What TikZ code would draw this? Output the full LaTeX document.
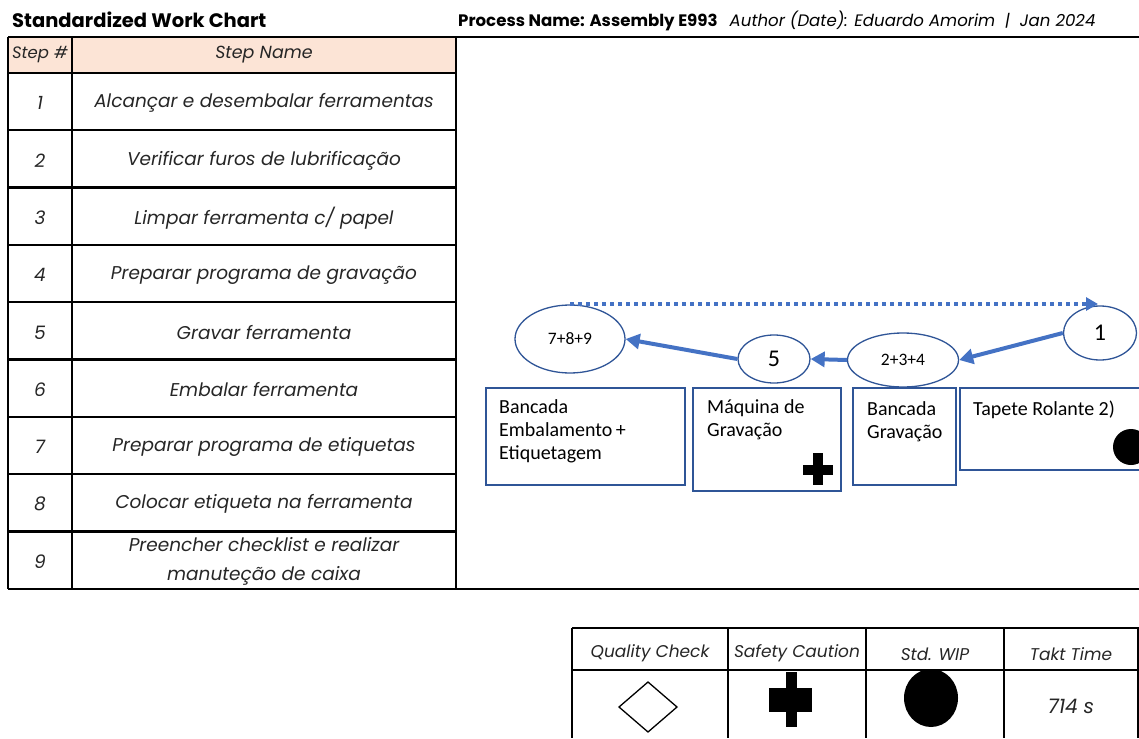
\documentclass[tikz,border=0pt]{standalone}
\usepackage{fontspec}
\setmainfont{Poppins}
\newfontfamily\labelfont{Carlito}
\usetikzlibrary{shapes.geometric,arrows.meta}
\definecolor{peach}{HTML}{FCE4D6}
\definecolor{flowblue}{HTML}{4472C4}
\definecolor{boxblue}{HTML}{2F5597}
\definecolor{ink}{HTML}{262626}
\tikzset{
  grid/.style={draw=black,line width=2.4pt},
  cell/.style={font=\fontsize{18.5}{29}\selectfont\itshape,text=ink,align=center,inner sep=0pt},
  legendcell/.style={font=\fontsize{17}{20}\selectfont\itshape,text=ink,align=center,inner sep=0pt},
  station/.style={draw=boxblue,line width=1.3pt},
  stationtext/.style={font=\labelfont\fontsize{20}{23}\selectfont,anchor=north west,align=left,inner sep=0pt},
  stop/.style={ellipse,draw=boxblue,line width=1.3pt,inner sep=0pt,font=\labelfont},
  flow/.style={draw=flowblue,line width=4pt,-{Triangle[length=14pt,width=15pt]}},
  walkback/.style={draw=flowblue,line width=4pt,dash pattern=on 4pt off 4pt,-{Triangle[length=12pt,width=13pt]}},
}
\begin{document}
\begin{tikzpicture}[x=1pt,y=-1pt]
\useasboundingbox (0,0) rectangle (1139,738);
\clip (0,0) rectangle (1139,738);

% heading line
\node[anchor=west,inner sep=0pt,font=\fontsize{19.5}{22}\selectfont\bfseries] (title) at (12,20) {Standardized Work Chart};
\node[anchor=west,inner sep=0pt,font=\fontsize{16.6}{20}\selectfont] (proc) at (458,21)
  {\textbf{Process Name: Assembly E993}\hspace{12pt}\textit{Author (Date): Eduardo Amorim\ \ |\ \ Jan 2024}};

% step table
\fill[peach] (8,37) rectangle (456,73);
\draw[grid] (8,37) -- (1139,37);
\draw[grid] (8,589) -- (1139,589);
\draw[grid] (8,37) -- (8,589);
\draw[grid] (72,37) -- (72,589);
\draw[grid] (456,37) -- (456,589);
\foreach \yy in {73,130.3,187.6,244.9,302.2,359.5,416.8,474.1,531.4}
  \draw[grid] (8,\yy) -- (456,\yy);

\node[cell,font=\fontsize{16.5}{20}\selectfont\itshape] (hnum) at (40,55) {Step \#};
\node[cell,font=\fontsize{17.5}{20}\selectfont\itshape] (hname) at (264,55) {Step Name};
\foreach \n/\txt [count=\i from 0] in {
  1/{Alcançar e desembalar ferramentas},
  2/{Verificar furos de lubrificação},
  3/{Limpar ferramenta c/ papel},
  4/{Preparar programa de gravação},
  5/{Gravar ferramenta},
  6/{Embalar ferramenta},
  7/{Preparar programa de etiquetas},
  8/{Colocar etiqueta na ferramenta},
  9/{Preencher checklist e realizar\\manuteção de caixa}}{
  \node[cell] (num\n) at (40,{103.2+57.3*\i}) {\n};
  \node[cell] (step\n) at (264,{103.2+57.3*\i}) {\txt};
}

% work stations
\draw[station] (486,388) rectangle (685,485);
\node[stationtext] (packtxt) at (499,399) {Bancada\\Embalamento\,+\\Etiquetagem};
\draw[station] (693,388) rectangle (841,491);
\node[stationtext] (engravetxt) at (707,399) {Máquina de\\Gravação};
\draw[station] (853,388) rectangle (956,485);
\node[stationtext] (benchtxt) at (867,401) {Bancada\\Gravação};
\draw[station] (960,388) rectangle (1160,470);
\node[stationtext] (belttxt) at (973,401) {Tapete Rolante 2)};

% symbols inside the stations
\fill[black] (813,453) rectangle (823,485);
\fill[black] (803,465) rectangle (833,475);
\fill[black] (1131,447) ellipse [x radius=18, y radius=18];

% operator stops
\node[stop,minimum width=110pt,minimum height=68pt,font=\labelfont\fontsize{17.5}{19}\selectfont] (s789) at (570,339) {7+8+9};
\node[stop,minimum width=72pt,minimum height=48pt,font=\labelfont\fontsize{24}{26}\selectfont] (s5) at (774,359) {5};
\node[stop,minimum width=111pt,minimum height=54pt,font=\labelfont\fontsize{17.5}{19}\selectfont] (s234) at (903,360) {2+3+4};
\node[stop,minimum width=73pt,minimum height=54pt,font=\labelfont\fontsize{24}{26}\selectfont] (s1) at (1100,333) {1};

% walking path
\draw[flow] (s1.west) -- (s234.east);
\draw[flow] (s234.west) -- (s5.east);
\draw[flow] (s5.west) -- (s789.east);
\coordinate (backstart) at (570,304);
\coordinate (backend) at (1098,304);
\draw[walkback] (backstart) -- (backend);

% legend table
\draw[grid] (572,628) -- (1139,628);
\draw[grid] (572,670) -- (1139,670);
\foreach \xx in {572,728,866,1004,1138}
  \draw[grid] (\xx,628) -- (\xx,738);
\node[legendcell] (lq) at (650,653) {Quality Check};
\node[legendcell] (ls) at (797,653) {Safety Caution};
\node[legendcell] (lw) at (935,654) {Std. WIP};
\node[legendcell] (lt) at (1071,654) {Takt Time};
\draw[black,line width=1.3pt] (619,707) -- (648,682) -- (677,707) -- (648,732) -- cycle;
\fill[black] (786,672) rectangle (797,727);
\fill[black] (769,688) rectangle (812,712);
\fill[black] (931,698) ellipse [x radius=27, y radius=29];
\node[legendcell,font=\fontsize{20}{22}\selectfont\itshape] (takt) at (1071,706) {714 s};
\end{tikzpicture}
\end{document}
